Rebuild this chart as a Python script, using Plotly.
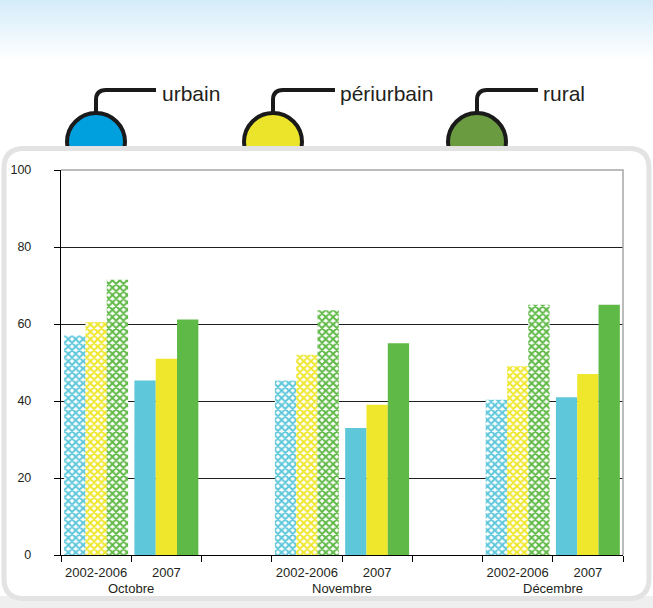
import base64
import plotly.graph_objects as go

# ---- data -------------------------------------------------------------
months = ["Octobre", "Novembre", "Décembre"]
periods = ["2002-2006", "2007"]
zones = ["urbain", "périurbain", "rural"]

urbain_2002_2006 = [57, 45.3, 40.3]
urbain_2007 = [45.3, 33, 41]
periurbain_2002_2006 = [60.5, 52, 49]
periurbain_2007 = [51, 39, 47]
rural_2002_2006 = [71.5, 63.6, 65]
rural_2007 = [61.2, 55, 65]

y_ticks = [0, 20, 40, 60, 80, 100]

bar_colors = {"urbain": "#5ec7da", "périurbain": "#efe72b", "rural": "#5fb946"}
lamp_colors = {"urbain": "#00a0df", "périurbain": "#ebe42a", "rural": "#6a9b41"}

series = {
    "urbain": (urbain_2002_2006, urbain_2007),
    "périurbain": (periurbain_2002_2006, periurbain_2007),
    "rural": (rural_2002_2006, rural_2007),
}

# ---- geometry of the page (pixels) ------------------------------------
W, H = 653, 608
L, R, T, B = 61, 30, 170, 53
PW, PH = W - L - R, H - T - B

def px(x):
    return (x - L) / PW

def py(y):
    return (H - B - y) / PH

FONT = "Liberation Sans, Arial, sans-serif"
INK = "#231f20"

# one slot per period, plus an empty slot between months
slots_per_month = len(periods) + 1
x_pos, pattern_shapes, tick_text = [], [], []
for m in range(len(months)):
    for p, per in enumerate(periods):
        x_pos.append(m * slots_per_month + p + 0.5)
        pattern_shapes.append("x" if p == 0 else "")
        tick_text.append(per)
n_slots = len(months) * slots_per_month - 1

fig = go.Figure()
for z in zones:
    first, second = series[z]
    values = []
    for m in range(len(months)):
        values += [first[m], second[m]]
    fig.add_trace(go.Bar(
        x=x_pos, y=values, name=z,
        marker=dict(
            color=bar_colors[z],
            line=dict(width=0),
            pattern=dict(shape=pattern_shapes, fgcolor=bar_colors[z],
                         bgcolor="white", size=5.2, solidity=0.62,
                         fillmode="replace"),
        ),
        hoverinfo="skip",
    ))

# ---- decorations ------------------------------------------------------
shapes = []

# soft band along the bottom edge
shapes.append(dict(type="rect", xref="paper", yref="paper", layer="below",
                   x0=px(0), x1=px(W), y0=py(596), y1=py(H),
                   line=dict(width=0), fillcolor="#efefef"))

# lamps with their cables, one per zone
lamp_centres = {"urbain": 96, "périurbain": 273, "rural": 477}
label_x = {"urbain": 160, "périurbain": 338, "rural": 541}
cable_end = {"urbain": 156, "périurbain": 335, "rural": 538}
annotations = []
for z in zones:
    cx = lamp_centres[z]
    shapes.append(dict(type="circle", xref="paper", yref="paper", layer="below",
                       x0=px(cx - 29), x1=px(cx + 29), y0=py(142 + 29), y1=py(142 - 29),
                       line=dict(color="#1a1a1a", width=4), fillcolor=lamp_colors[z]))
    path = (f"M{px(cx)},{py(112)} L{px(cx)},{py(100)} "
            f"Q{px(cx)},{py(90)} {px(cx + 10)},{py(90)} L{px(cable_end[z])},{py(90)}")
    shapes.append(dict(type="path", xref="paper", yref="paper", layer="below",
                       path=path, line=dict(color="#1a1a1a", width=4)))
    annotations.append(dict(text=z, xref="paper", yref="paper", x=px(label_x[z]),
                            y=py(93), xanchor="left", yanchor="middle", showarrow=False,
                            font=dict(family=FONT, size=21, color=INK)))

# white rounded panel
x0, x1, y0, y1, r = 4, 649, 148.5, 598.5, 20
panel = (f"M{px(x0 + r)},{py(y0)} L{px(x1 - r)},{py(y0)} Q{px(x1)},{py(y0)} {px(x1)},{py(y0 + r)} "
         f"L{px(x1)},{py(y1 - r)} Q{px(x1)},{py(y1)} {px(x1 - r)},{py(y1)} "
         f"L{px(x0 + r)},{py(y1)} Q{px(x0)},{py(y1)} {px(x0)},{py(y1 - r)} "
         f"L{px(x0)},{py(y0 + r)} Q{px(x0)},{py(y0)} {px(x0 + r)},{py(y0)} Z")
shapes.append(dict(type="path", xref="paper", yref="paper", layer="below", path=panel,
                   line=dict(color="#e3e3e3", width=5), fillcolor="white"))

# light frame on the top and right of the plot area
shapes.append(dict(type="path", xref="paper", yref="paper", layer="above",
                   path="M0,1 L1,1 L1,0", line=dict(color="#a6a6a6", width=1.5)))

# month names under each pair of periods
for m, month in enumerate(months):
    annotations.append(dict(text=month, xref="x", yref="paper",
                            x=m * slots_per_month + len(periods) / 2, y=py(588),
                            xanchor="center", yanchor="middle", showarrow=False,
                            font=dict(family=FONT, size=13, color=INK)))

# sky gradient at the top of the page
sky = ('<svg xmlns="http://www.w3.org/2000/svg" width="653" height="60" preserveAspectRatio="none">'
       '<defs><linearGradient id="g" x1="0" y1="0" x2="0" y2="1">'
       '<stop offset="0" stop-color="#d4ecf9"/><stop offset="1" stop-color="#ffffff"/>'
       '</linearGradient></defs><rect width="653" height="60" fill="url(#g)"/></svg>')
sky_src = "data:image/svg+xml;base64," + base64.b64encode(sky.encode()).decode()

fig.update_layout(
    width=W, height=H, autosize=False,
    margin=dict(l=L, r=R, t=T, b=B, pad=0, autoexpand=False),
    paper_bgcolor="white", plot_bgcolor="rgba(0,0,0,0)",
    barmode="group", bargap=0.09, bargroupgap=0,
    showlegend=False, hovermode=False,
    font=dict(family=FONT, color=INK),
    shapes=shapes, annotations=annotations,
    images=[dict(source=sky_src, xref="paper", yref="paper", x=px(0), y=py(0),
                 sizex=W / PW, sizey=60 / PH, sizing="stretch",
                 xanchor="left", yanchor="top", layer="below")],
    xaxis=dict(
        range=[0, n_slots], tickmode="array", tickvals=x_pos, ticktext=tick_text,
        ticks="outside", ticklen=5, tickcolor="rgba(0,0,0,0)",
        tickfont=dict(family=FONT, size=13, color=INK),
        minor=dict(tick0=0, dtick=1, ticks="outside", ticklen=6,
                   tickcolor="black", tickwidth=1.2, showgrid=False),
        showline=True, linecolor="black", linewidth=1.4,
        showgrid=False, zeroline=False, fixedrange=True, automargin=False,
    ),
    yaxis=dict(
        range=[0, 100], tickmode="array", tickvals=y_ticks,
        ticks="outside", ticklen=6, tickcolor="black", tickwidth=1.2,
        ticklabelstandoff=20,
        tickfont=dict(family=FONT, size=12.5, color=INK),
        showline=True, linecolor="black", linewidth=1.4,
        showgrid=True, gridcolor="#1f1f1f", gridwidth=1.2,
        zeroline=False, fixedrange=True, automargin=False,
    ),
)

fig.write_html("out.html", config={"displayModeBar": False})
